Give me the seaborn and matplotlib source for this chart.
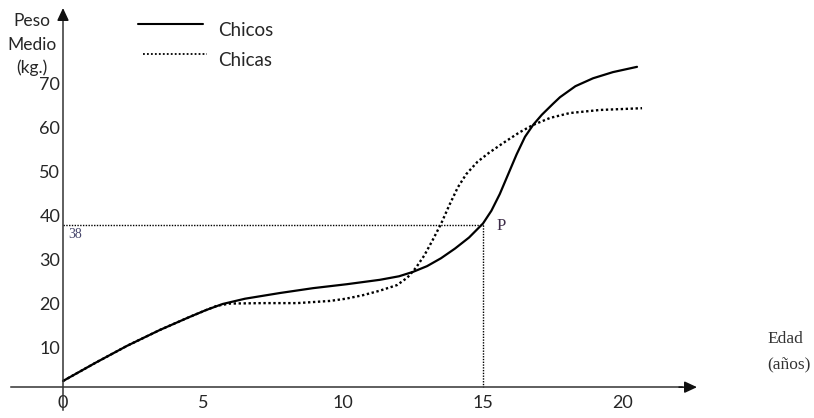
import matplotlib
matplotlib.use("Agg")
import matplotlib.pyplot as plt
from matplotlib.lines import Line2D
import seaborn as sns
import pandas as pd

# ---- data ----
chicos_edad = [0, 1.15, 2.29, 3.46, 4.5, 5.1, 5.7, 6.5, 7.75, 8.93, 10.14, 11.32, 12.0,
               12.5, 13.0, 13.5, 14.0, 14.5, 15.0, 15.3, 15.6, 15.9, 16.2, 16.5, 16.79,
               17.1, 17.5, 17.75, 18.3, 18.93, 19.64, 20.5]
chicos_peso = [2.5, 6.6, 10.5, 14.1, 17.0, 18.6, 20.0, 21.2, 22.5, 23.6, 24.5, 25.5, 26.3,
               27.3, 28.6, 30.4, 32.6, 35.1, 38.3, 41.2, 45.0, 49.5, 54.0, 58.0, 60.7,
               63.0, 65.5, 67.0, 69.5, 71.3, 72.7, 73.9]
chicas_edad = [0, 1.15, 2.29, 3.46, 4.5, 5.1, 5.5, 5.96, 7.14, 8.36, 9.54, 10.1, 10.71,
               11.3, 11.93, 12.3, 12.6, 12.9, 13.2, 13.5, 13.8, 14.1, 14.4, 14.8, 15.2,
               15.7, 16.3, 16.79, 17.4, 18.1, 19.18, 20.68]
chicas_peso = [2.5, 6.6, 10.5, 14.1, 17.0, 18.6, 19.6, 20.1, 20.2, 20.2, 20.7, 21.2, 22.0,
               23.0, 24.3, 26.0, 28.2, 31.0, 34.5, 38.2, 42.5, 46.5, 49.5, 52.3, 54.3,
               56.5, 59.0, 60.7, 62.3, 63.4, 64.1, 64.5]
x_major = [0, 5, 10, 15, 20]
x_minor = [6, 7, 8, 9]
y_ticks = [10, 20, 30, 40, 50, 60, 70]
P_X, P_Y = 15, 38
series_names = ["Chicos", "Chicas"]

df_chicos = pd.DataFrame({"Edad": chicos_edad, "Peso": chicos_peso})
df_chicas = pd.DataFrame({"Edad": chicas_edad, "Peso": chicas_peso})

sns.set_style("white")
plt.rcParams["font.family"] = ["Lato", "DejaVu Sans"]

W, H = 814, 418
fig = plt.figure(figsize=(W / 100, H / 100), dpi=100)
ax = fig.add_axes([0, 0, 1, 1])
ax.set_facecolor("white")

# pixel mapping: x0 at px 63, 28 px / year ; y0 at px 392, 4.4 px / kg
ax.set_xlim(-63 / 28, (W - 63) / 28)
ax.set_ylim((392 - H) / 4.4, 392 / 4.4)

AXIS_Y = 1.1
sns.lineplot(data=df_chicos, x="Edad", y="Peso", ax=ax, color="black", lw=1.6,
             estimator=None, sort=False)
sns.lineplot(data=df_chicas, x="Edad", y="Peso", ax=ax, color="black", lw=1.7,
             linestyle=(0, (1, 1.1)), estimator=None, sort=False)

# guide lines to P
ax.plot([0, P_X], [P_Y, P_Y], color="black", lw=1.0, linestyle=(0, (1, 1)))
ax.plot([P_X, P_X], [P_Y, AXIS_Y], color="black", lw=1.0, linestyle=(0, (1, 1)))
ax.text(P_X + 0.5, P_Y - 0.2, "P", family="Liberation Serif", fontsize=12,
        color="#3d2c48", ha="left", va="center")
ax.text(0.18, P_Y - 2.2, "38", family="Liberation Serif", fontsize=10,
        color="#45456a", ha="left", va="center")

# axes spines
for s in ["top", "right"]:
    ax.spines[s].set_visible(False)
ax.spines["left"].set_position(("data", 0))
ax.spines["bottom"].set_position(("data", AXIS_Y))
ax.spines["left"].set_bounds((392 - 410) / 4.4, 85.5)
ax.spines["bottom"].set_bounds(-52 / 28, 22.1)
for s in ["left", "bottom"]:
    ax.spines[s].set_color("#333333")
    ax.spines[s].set_linewidth(1.1)

arrow_kw = dict(arrowstyle="-|>,head_length=0.75,head_width=0.35", color="#111111",
                lw=1.1, shrinkA=0, shrinkB=0)
ax.annotate("", xy=((697 - 63) / 28, AXIS_Y), xytext=(22.0, AXIS_Y), arrowprops=arrow_kw)
ax.annotate("", xy=(0, (392 - 8) / 4.4), xytext=(0, 85.0), arrowprops=arrow_kw)

ax.set_xticks(x_major)
ax.set_xticks(x_minor, minor=True)
ax.set_xticklabels([str(v) for v in x_major])
ax.set_yticks(y_ticks)
ax.set_yticklabels([str(v) for v in y_ticks])
ax.tick_params(axis="x", which="both", direction="in", length=3.6, width=1,
               color="#222222", pad=6, labelsize=13)
ax.tick_params(axis="y", which="both", direction="in", length=3, width=1,
               color="#222222", pad=2, labelsize=13)
ax.set_xlabel("")
ax.set_ylabel("")
ax.grid(False)

# axis titles
for txt, py in [("Peso", 21), ("Medio", 45), ("(kg.)", 68)]:
    fig.text(32 / W, 1 - py / H, txt, ha="center", va="center", fontsize=12.5)
fig.text(785 / W, 1 - 339 / H, "Edad", ha="center", va="center",
         family="Liberation Serif", fontsize=12.5, color="#333333")
fig.text(789 / W, 1 - 364 / H, "(años)", ha="center", va="center",
         family="Liberation Serif", fontsize=12.5, color="#333333")

# legend
fig.add_artist(Line2D([138 / W, 203 / W], [1 - 24 / H, 1 - 24 / H],
                      transform=fig.transFigure, color="black", lw=1.5))
fig.add_artist(Line2D([143 / W, 207 / W], [1 - 54 / H, 1 - 54 / H],
                      transform=fig.transFigure, color="black", lw=1.3,
                      linestyle=(0, (1, 1.2))))
fig.text(218 / W, 1 - 30.5 / H, series_names[0], ha="left", va="center", fontsize=13.5)
fig.text(218 / W, 1 - 60 / H, series_names[1], ha="left", va="center", fontsize=13.5)

fig.savefig("out.png", dpi=100, facecolor="white")
